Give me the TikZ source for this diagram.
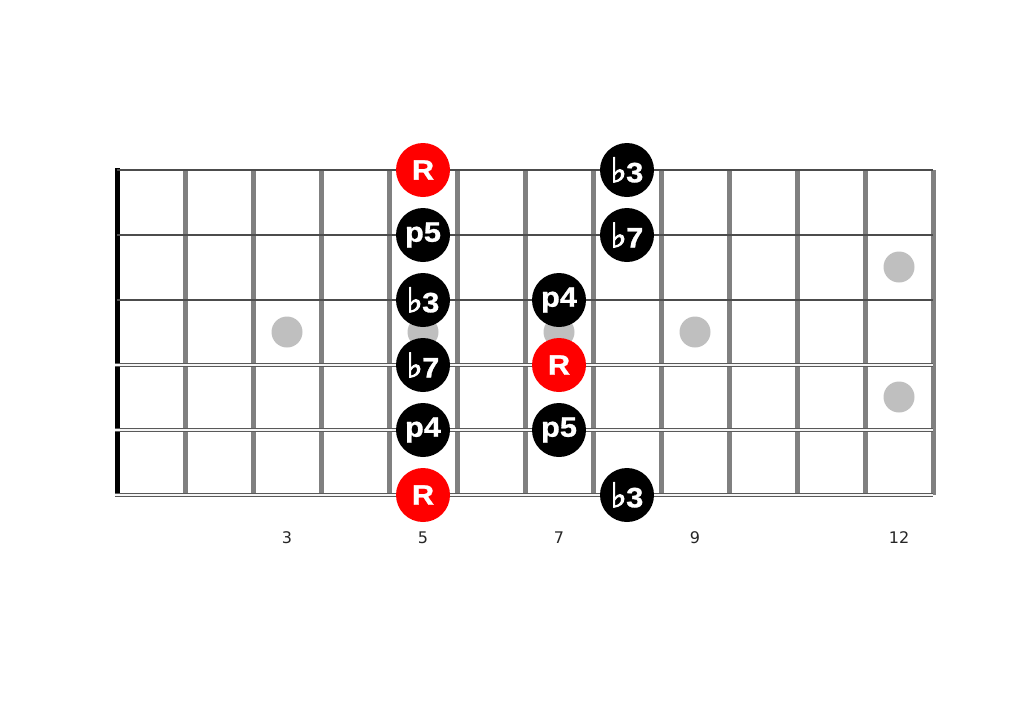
\documentclass[tikz,border=0pt]{standalone}
\usepackage{fontspec}
\setmainfont{Liberation Sans}
\newfontfamily\notefont[FakeStretch=1.1,FakeBold=1]{Liberation Sans}
\newfontfamily\numfont{DejaVu Sans}
\newfontfamily\flatfont[FakeBold=3]{DejaVu Sans}
\usepackage{tikz}
\newcommand{\fl}{{\flatfont\fontsize{34}{34}\selectfont\char"266D}\kern-0.5pt}

\begin{document}
\begin{tikzpicture}[x=1pt,y=-1pt,
   note/.style={circle,fill=black,text=white,minimum size=54pt,inner sep=0pt,font=\notefont\fontsize{28}{28}\selectfont\bfseries},
   root/.style={note,fill=red},
   inlay/.style={circle,fill=black!25,minimum size=31pt,inner sep=0pt},
   fretno/.style={font=\numfont\fontsize{16}{16}\selectfont,text=black!85}]
  \useasboundingbox (0,0) rectangle (1024,724);
  % inlays
  \draw (287,332) node[inlay] (d3) {};
  \draw (423,332) node[inlay] (d5) {};
  \draw (559,332) node[inlay] (d7) {};
  \draw (695,332) node[inlay] (d9) {};
  \draw (899,267) node[inlay] (d12a) {};
  \draw (899,397) node[inlay] (d12b) {};
  % frets, nut
  \foreach \f in {1,...,12}
    \draw[line width=5pt,black!50] (117+68*\f,170) -- (117+68*\f,495);
  \draw[line width=5pt] (117,168) -- (117,497);
  % strings
  \foreach \s in {0,1,2}
    \draw[line width=1.4pt,black!70] (117,170+65*\s) -- (933,170+65*\s);
  \foreach \s/\w in {3/1.4,4/1.8,5/2.4}
    \draw[line width=0.9pt,black!65,double=black!4,double distance=\w pt] (115,170+65*\s) -- (933,170+65*\s);
  % notes
  \draw (423,170) node[root] (r1) {R};
  \draw (423,235) node[note] (p5a) {p5};
  \draw (423,300) node[note] (m3a) {\fl3};
  \draw (423,365) node[note] (m7a) {\fl7};
  \draw (423,430) node[note] (p4a) {p4};
  \draw (423,495) node[root] (r2) {R};
  \draw (559,300) node[note] (p4b) {p4};
  \draw (559,365) node[root] (r3) {R};
  \draw (559,430) node[note] (p5b) {p5};
  \draw (627,170) node[note] (m3b) {\fl3};
  \draw (627,235) node[note] (m7b) {\fl7};
  \draw (627,495) node[note] (m3c) {\fl3};
  % fret numbers
  \draw (287,538) node[fretno] (n3) {3};
  \draw (423,538) node[fretno] (n5) {5};
  \draw (559,538) node[fretno] (n7) {7};
  \draw (695,538) node[fretno] (n9) {9};
  \draw (899,538) node[fretno] (n12) {12};
\end{tikzpicture}
\end{document}
